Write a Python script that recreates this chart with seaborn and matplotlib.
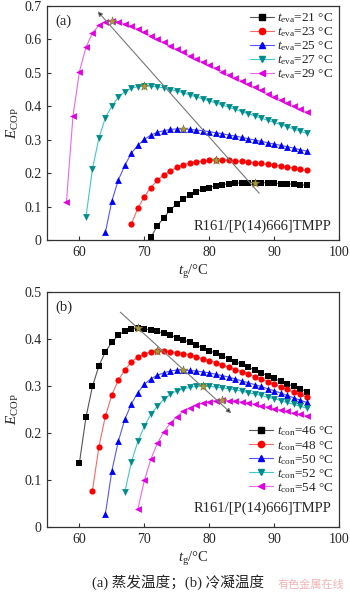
import numpy as np
import pandas as pd
import seaborn as sns
import matplotlib
matplotlib.use("Agg")
import matplotlib.pyplot as plt
from matplotlib.lines import Line2D

# ---------------- data ----------------
eva_temps = ["21", "23", "25", "27", "29"]
eva_start = [71, 68, 64, 61, 58]
eva_21 = [0.008, 0.042, 0.067, 0.090, 0.108, 0.122, 0.135, 0.145, 0.152, 0.157, 0.162, 0.166,
          0.168, 0.170, 0.171, 0.172, 0.172, 0.172, 0.171, 0.170, 0.169, 0.168, 0.167, 0.165, 0.164]
eva_23 = [0.048, 0.095, 0.130, 0.157, 0.178, 0.195, 0.207, 0.217, 0.224, 0.230, 0.234, 0.236,
          0.238, 0.239, 0.239, 0.238, 0.237, 0.235, 0.233, 0.231, 0.229, 0.226, 0.224, 0.221,
          0.218, 0.215, 0.211, 0.208]
eva_25 = [0.023, 0.117, 0.180, 0.223, 0.260, 0.283, 0.301, 0.314, 0.322, 0.327, 0.331, 0.332,
          0.332, 0.331, 0.329, 0.327, 0.324, 0.321, 0.318, 0.314, 0.311, 0.307, 0.303, 0.299,
          0.295, 0.291, 0.287, 0.283, 0.279, 0.275, 0.270, 0.266]
eva_27 = [0.068, 0.212, 0.305, 0.366, 0.401, 0.427, 0.444, 0.454, 0.459, 0.461, 0.460, 0.458,
          0.455, 0.450, 0.446, 0.440, 0.434, 0.428, 0.422, 0.416, 0.410, 0.404, 0.397, 0.391,
          0.384, 0.378, 0.371, 0.365, 0.358, 0.352, 0.345, 0.339, 0.332, 0.326, 0.319]
eva_29 = [0.115, 0.370, 0.504, 0.576, 0.619, 0.642, 0.653, 0.656, 0.653, 0.647, 0.639, 0.630,
          0.621, 0.611, 0.601, 0.591, 0.580, 0.570, 0.561, 0.551, 0.542, 0.532, 0.523, 0.514,
          0.504, 0.495, 0.485, 0.476, 0.467, 0.457, 0.448, 0.438, 0.429, 0.420, 0.410, 0.401,
          0.391, 0.382]
eva_peak_tg = [87, 81, 76, 70, 65]

con_temps = ["46", "48", "50", "52", "54"]
con_start = [60, 62, 64, 67, 69]
con_46 = [0.137, 0.233, 0.299, 0.343, 0.373, 0.393, 0.408, 0.417, 0.421, 0.423, 0.422, 0.419,
          0.416, 0.412, 0.408, 0.403, 0.398, 0.393, 0.387, 0.381, 0.375, 0.370, 0.364, 0.358,
          0.352, 0.346, 0.340, 0.334, 0.328, 0.322, 0.316, 0.310, 0.305, 0.299, 0.294, 0.288]
con_48 = [0.077, 0.171, 0.236, 0.281, 0.313, 0.334, 0.351, 0.362, 0.368, 0.372, 0.374, 0.374,
          0.373, 0.371, 0.369, 0.366, 0.362, 0.358, 0.354, 0.350, 0.345, 0.340, 0.335, 0.330,
          0.325, 0.320, 0.315, 0.309, 0.304, 0.298, 0.293, 0.287, 0.282, 0.277]
con_50 = [0.028, 0.120, 0.183, 0.229, 0.262, 0.286, 0.304, 0.315, 0.323, 0.328, 0.332, 0.334,
          0.334, 0.333, 0.332, 0.330, 0.328, 0.325, 0.322, 0.319, 0.315, 0.311, 0.307, 0.303,
          0.299, 0.294, 0.290, 0.285, 0.280, 0.275, 0.270, 0.265]
con_52 = [0.075, 0.138, 0.182, 0.214, 0.240, 0.257, 0.272, 0.282, 0.290, 0.294, 0.297, 0.299,
          0.299, 0.299, 0.298, 0.296, 0.294, 0.292, 0.289, 0.286, 0.283, 0.280, 0.276, 0.273,
          0.269, 0.265, 0.261, 0.257, 0.253]
con_54 = [0.038, 0.099, 0.144, 0.178, 0.202, 0.221, 0.235, 0.246, 0.253, 0.259, 0.264, 0.267,
          0.269, 0.270, 0.269, 0.268, 0.266, 0.264, 0.261, 0.258, 0.255, 0.252, 0.249, 0.246,
          0.243, 0.240, 0.237]
con_peak_tg = [69, 72, 76, 79, 82]

x_ticks = [60, 70, 80, 90, 100]
y_ticks_a = [0, 0.1, 0.2, 0.3, 0.4, 0.5, 0.6, 0.7]
y_ticks_b = [0, 0.1, 0.2, 0.3, 0.4, 0.5]

# ---------------- style ----------------
sns.set_theme(style="ticks")
plt.rcParams["font.family"] = ["Liberation Serif", "Noto Sans CJK SC", "DejaVu Sans"]
plt.rcParams["mathtext.fontset"] = "custom"
plt.rcParams["mathtext.rm"] = "Liberation Serif"
plt.rcParams["mathtext.it"] = "Liberation Serif:italic"
plt.rcParams["xtick.direction"] = "in"
plt.rcParams["ytick.direction"] = "in"

marker_cols = ["#000000", "#ff0000", "#0000ff", "#008c8c", "#e000e0"]
line_cols = ["#555555", "#ff6666", "#5555ff", "#40c8c8", "#ee66ee"]
markers = ["s", "o", "^", "v", "<"]
msizes = [18, 20, 24, 24, 24]
peak_col = "#a89a3a"


def long_df(starts, series, names):
    rows = []
    for s, vals, n in zip(starts, series, names):
        for i, v in enumerate(vals):
            rows.append((s + i, v, n))
    return pd.DataFrame(rows, columns=["tg", "E", "series"])


fig = plt.figure(figsize=(3.5, 5.93), dpi=100)
axL, axW = 47 / 350, 292 / 350
ax_a = fig.add_axes([axL, 1 - 240 / 593, axW, 234 / 593])
ax_b = fig.add_axes([axL, 1 - 527 / 593, axW, 235 / 593])


def draw_panel(ax, starts, series, names, peaks, prefix, ylim, yticks):
    df = long_df(starts, series, names)
    sns.lineplot(data=df, x="tg", y="E", hue="series", hue_order=names,
                 palette=line_cols, linewidth=0.8, legend=False, ax=ax, zorder=2)
    for k, n in enumerate(names):
        sub = df[df["series"] == n]
        sns.scatterplot(data=sub, x="tg", y="E", color=marker_cols[k], marker=markers[k],
                        s=msizes[k], linewidth=0, legend=False, ax=ax, zorder=3)
    px = []
    py = []
    for k, p in enumerate(peaks):
        px.append(p)
        py.append(series[k][p - starts[k]])
    sns.scatterplot(x=px, y=py, color=peak_col, marker="*", s=45, linewidth=0.3,
                    edgecolor="#6b6320", legend=False, ax=ax, zorder=4)
    ax.set_xlim(55, 100)
    ax.set_ylim(*ylim)
    ax.set_xticks(x_ticks)
    ax.set_yticks(yticks)
    ax.set_yticklabels(["0"] + [f"{t:.1f}" for t in yticks[1:]])
    ax.tick_params(labelsize=10, length=3, width=0.8, color="#333333", pad=4)
    for sp in ax.spines.values():
        sp.set_visible(True)
        sp.set_linewidth(0.9)
        sp.set_color("#333333")
    ax.set_xlabel(r"$\mathit{t}_{\mathrm{g}}$/°C", fontsize=10.5, labelpad=3)
    ax.set_ylabel(r"$\mathit{E}_{\mathrm{COP}}$", fontsize=11, labelpad=2)
    handles = [Line2D([], [], color=line_cols[k], lw=0.8, marker=markers[k],
                      markerfacecolor=marker_cols[k], markeredgecolor=marker_cols[k],
                      markersize=4.5) for k in range(len(names))]
    labels = [r"$\mathit{t}_{\mathrm{" + prefix + r"}}$=" + n + " °C" for n in names]
    return handles, labels


leg_kw = dict(frameon=False, fontsize=9.5, handlelength=1.8, handletextpad=0.3,
              labelspacing=0.02, borderpad=0.2)

h, l = draw_panel(ax_a, eva_start, [eva_21, eva_23, eva_25, eva_27, eva_29], eva_temps,
                  eva_peak_tg, "eva", (0, 0.7), y_ticks_a)
ax_a.legend(h, l, loc="upper right", borderaxespad=0.2, **leg_kw)
ax_a.text(0.03, 0.965, "(a)", transform=ax_a.transAxes, fontsize=10.5, va="top", ha="left")
ax_a.text(0.975, 0.03, "R161/[P(14)666]TMPP", transform=ax_a.transAxes, fontsize=10.5,
          va="bottom", ha="right")
ax_a.annotate("", xy=(62.8, 0.684), xytext=(87.7, 0.14),
              arrowprops=dict(arrowstyle="-|>", color="#777777", lw=0.8,
                              mutation_scale=7, shrinkA=0, shrinkB=0, fc="black", ec="#777777"))

h, l = draw_panel(ax_b, con_start, [con_46, con_48, con_50, con_52, con_54], con_temps,
                  con_peak_tg, "con", (0, 0.5), y_ticks_b)
ax_b.legend(h, l, loc="lower right", bbox_to_anchor=(1.0, 0.115), borderaxespad=0.2, **leg_kw)
ax_b.text(0.03, 0.965, "(b)", transform=ax_b.transAxes, fontsize=10.5, va="top", ha="left")
ax_b.text(0.975, 0.05, "R161/[P(14)666]TMPP", transform=ax_b.transAxes, fontsize=10.5,
          va="bottom", ha="right")
ax_b.annotate("", xy=(83.4, 0.242), xytext=(66.3, 0.457),
              arrowprops=dict(arrowstyle="-|>", color="#777777", lw=0.8,
                              mutation_scale=7, shrinkA=0, shrinkB=0, fc="black", ec="#777777"))

fig.text(0.51, 1 - 582 / 593, "(a) 蒸发温度；(b) 冷凝温度", ha="center", va="center",
         fontsize=10.5, family=["Liberation Serif", "Noto Sans CJK SC"])
fig.text(0.985, 1 - 585 / 593, "有色金属在线", ha="right", va="center", fontsize=8,
         color="#f0a0a0", alpha=0.8, family=["Noto Sans CJK SC"])

fig.savefig("out.png", dpi=100)
